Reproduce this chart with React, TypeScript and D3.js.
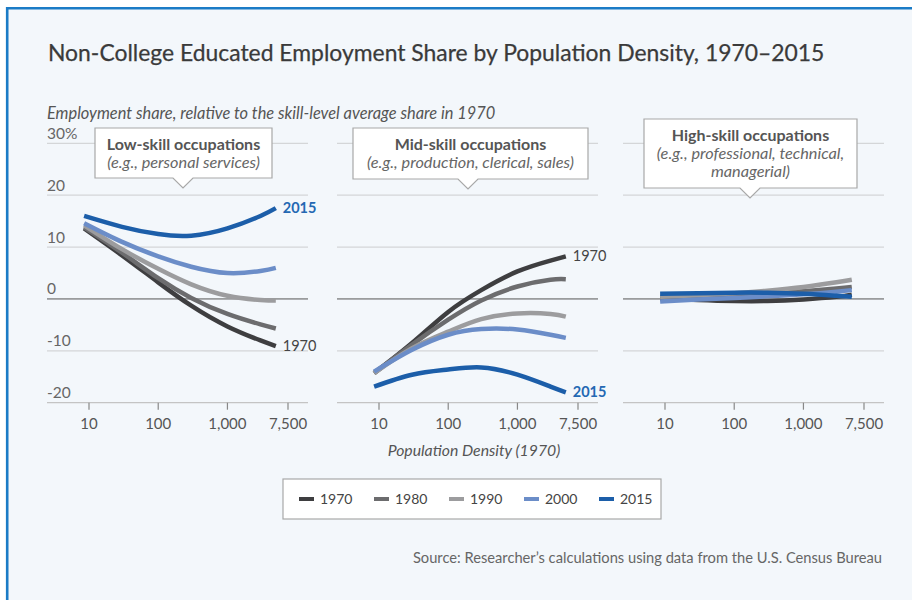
import * as d3 from "d3";
import { useEffect, useRef } from "react";

// population density sample points (1970 persons per sq. mile), log axis
const densities = [8.5, 30, 100, 300, 1000, 3000, 5000];
const years = ["1970", "1980", "1990", "2000", "2015"];

// employment share relative to the 1970 skill-level average, one row per year
const lowSkill = [
  [13.6, 8.4, 3.2, -1.3, -5.3, -8.0, -9.1],
  [13.8, 8.9, 4.0, 0.2, -2.9, -4.9, -5.7],
  [14.2, 9.6, 5.8, 2.8, 0.6, -0.2, -0.3],
  [14.6, 11.0, 8.2, 6.2, 5.0, 5.4, 6.0],
  [16.0, 13.9, 12.5, 12.2, 13.6, 16.0, 17.5],
];
const midSkill = [
  [-14.3, -8.5, -2.5, 1.7, 5.3, 7.4, 8.2],
  [-14.3, -8.8, -4.0, -0.3, 2.4, 3.7, 3.8],
  [-14.3, -9.5, -6.3, -3.9, -2.8, -2.9, -3.4],
  [-14.0, -9.8, -6.9, -5.8, -5.9, -6.9, -7.5],
  [-16.9, -14.6, -13.6, -13.2, -14.6, -16.9, -18.0],
];
const highSkill = [
  [0.1, -0.2, -0.4, -0.4, -0.1, 0.4, 0.8],
  [0.0, 0.3, 0.6, 1.0, 1.5, 2.0, 2.3],
  [0.4, 0.7, 1.1, 1.6, 2.3, 3.2, 3.7],
  [-0.5, -0.1, 0.2, 0.5, 0.9, 1.4, 1.7],
  [1.0, 1.1, 1.2, 1.2, 1.0, 0.6, 0.4],
];

const panelTitles = ["Low-skill occupations", "Mid-skill occupations", "High-skill occupations"];
const panelNotes = [
  ["(e.g., personal services)"],
  ["(e.g., production, clerical, sales)"],
  ["(e.g., professional, technical,", "managerial)"],
];
// which series get a label at the line end in each panel
const endLabels = [["1970", "2015"], ["1970", "2015"], []];

const yTicks = [-20, -10, 0, 10, 20, 30];
const xTicks = [10, 100, 1000, 7500];

const colors = ["#3e3e40", "#6c6c6e", "#9c9c9e", "#6b8dc8", "#1c5ea9"];
const FONT = "Lato, 'Open Sans', sans-serif";

const App = () => {
  const ref = useRef<SVGSVGElement>(null);

  useEffect(() => {
    const svg = d3.select(ref.current);
    svg.selectAll("*").remove();

    // background frame
    svg.append("rect").attr("width", 912).attr("height", 600).attr("fill", "#fff");
    svg.append("rect").attr("x", 7).attr("y", 8).attr("width", 905).attr("height", 592).attr("fill", "#f3f7fb");
    svg.append("line").attr("x1", 6).attr("x2", 912).attr("y1", 8.3).attr("y2", 8.3)
      .attr("stroke", "#1b7bc6").attr("stroke-width", 2.6);
    svg.append("line").attr("x1", 7.2).attr("x2", 7.2).attr("y1", 7).attr("y2", 600)
      .attr("stroke", "#1b7bc6").attr("stroke-width", 2.6);

    svg.append("text").attr("x", 48).attr("y", 61)
      .attr("font-family", FONT).attr("font-size", 22.9).attr("fill", "#3a3a3a")
      .attr("stroke", "#3a3a3a").attr("stroke-width", 0.25)
      .text("Non-College Educated Employment Share by Population Density, 1970–2015");

    svg.append("text").attr("x", 47).attr("y", 119)
      .attr("font-family", FONT).attr("font-size", 16.4).attr("font-style", "italic").attr("fill", "#555")
      .text("Employment share, relative to the skill-level average share in 1970");

    const y = d3.scaleLinear().domain([-20, 30]).range([402.7, 143.3]);
    const panels = [lowSkill, midSkill, highSkill];
    const panelX = [47, 337, 623];
    const panelW = 261;
    const boxes = [
      { x0: 95, x1: 272, y0: 128, y1: 178, px: 183 },
      { x0: 353, x1: 588, y0: 128, y1: 179, px: 468 },
      { x0: 644, x1: 857, y0: 119, y1: 188, px: 750 },
    ];

    panels.forEach((rows, p) => {
      const x0 = panelX[p];
      const x = d3.scaleLog().domain([10, 7500]).range([x0 + 42, x0 + 241]);
      const g = svg.append("g");

      // gridlines
      g.selectAll("line.grid").data(yTicks.filter((t) => t !== 0)).join("line")
        .attr("x1", x0).attr("x2", x0 + panelW)
        .attr("y1", (d) => y(d)).attr("y2", (d) => y(d))
        .attr("stroke", (d) => (d === -20 ? "#c4c4c4" : "#d4d6d8")).attr("stroke-width", 1.3);
      g.append("line").attr("x1", x0).attr("x2", x0 + panelW).attr("y1", y(0)).attr("y2", y(0))
        .attr("stroke", "#555").attr("stroke-width", 1);

      // x axis ticks
      g.selectAll("line.tick").data(xTicks).join("line")
        .attr("x1", (d) => x(d)).attr("x2", (d) => x(d))
        .attr("y1", y(-20)).attr("y2", y(-20) + 7)
        .attr("stroke", "#888").attr("stroke-width", 1.2);
      g.selectAll("text.xt").data(xTicks).join("text")
        .attr("x", (d) => x(d)).attr("y", 429).attr("text-anchor", "middle")
        .attr("font-family", FONT).attr("font-size", 15).attr("fill", "#555")
        .text((d) => d3.format(",")(d));

      if (p === 0) {
        g.selectAll("text.yt").data(yTicks).join("text")
          .attr("x", 47).attr("y", (d) => y(d) - 4.5)
          .attr("font-family", FONT).attr("font-size", 15.5).attr("fill", "#666")
          .text((d) => (d === 30 ? "30%" : String(d)));
      }

      const line = d3.line<number>()
        .x((_, i) => x(densities[i]))
        .y((d) => y(d))
        .curve(d3.curveNatural);

      rows.forEach((vals, s) => {
        g.append("path").attr("d", line(vals))
          .attr("fill", "none").attr("stroke", colors[s])
          .attr("stroke-width", 4.5).attr("stroke-linecap", "butt");
      });

      endLabels[p].forEach((yr) => {
        const s = years.indexOf(yr);
        const last = rows[s][rows[s].length - 1];
        g.append("text")
          .attr("x", x(densities[densities.length - 1]) + 7).attr("y", y(last) + 5)
          .attr("font-family", FONT).attr("font-size", 14.5)
          .attr("font-weight", yr === "2015" ? 700 : 400)
          .attr("fill", yr === "2015" ? "#2468b3" : "#444")
          .text(yr);
      });

      // callout box
      const b = boxes[p];
      g.append("path")
        .attr("d", `M${b.x0},${b.y0}H${b.x1}V${b.y1}H${b.px + 10}L${b.px},${b.y1 + 10}L${b.px - 10},${b.y1}H${b.x0}Z`)
        .attr("fill", "#fff").attr("stroke", "#a8a8a8").attr("stroke-width", 1.2);
      const cx = (b.x0 + b.x1) / 2;
      g.append("text").attr("x", cx).attr("y", b.y0 + 21.5).attr("text-anchor", "middle")
        .attr("font-family", FONT).attr("font-size", 16).attr("font-weight", 700).attr("fill", "#555")
        .text(panelTitles[p]);
      panelNotes[p].forEach((t, i) => {
        g.append("text").attr("x", cx).attr("y", b.y0 + 39.5 + i * 18).attr("text-anchor", "middle")
          .attr("font-family", FONT).attr("font-size", 16.3).attr("font-style", "italic").attr("fill", "#666")
          .text(t);
      });
    });

    svg.append("text").attr("x", 474).attr("y", 456).attr("text-anchor", "middle")
      .attr("font-family", FONT).attr("font-size", 15.8).attr("font-style", "italic").attr("fill", "#555")
      .text("Population Density (1970)");

    // legend
    svg.append("rect").attr("x", 283).attr("y", 479).attr("width", 378).attr("height", 40)
      .attr("fill", "#fff").attr("stroke", "#a8a8a8").attr("stroke-width", 1.2);
    const lx = d3.scalePoint<string>().domain(years).range([299, 599]);
    const leg = svg.selectAll("g.leg").data(years).join("g")
      .attr("transform", (d) => `translate(${lx(d)},499)`);
    leg.append("rect").attr("x", 0).attr("y", -2).attr("width", 15).attr("height", 4)
      .attr("fill", (_, i) => colors[i]);
    leg.append("text").attr("x", 21).attr("y", 5)
      .attr("font-family", FONT).attr("font-size", 14).attr("fill", "#444")
      .text((d) => d);

    svg.append("text").attr("x", 882).attr("y", 563).attr("text-anchor", "end")
      .attr("font-family", FONT).attr("font-size", 14.7).attr("fill", "#666")
      .text("Source: Researcher’s calculations using data from the U.S. Census Bureau");
  }, []);

  return (
    <svg ref={ref} width={912} height={600}
      style={{ position: "absolute", left: 0, top: 0, display: "block" }} />
  );
};

export default App;
